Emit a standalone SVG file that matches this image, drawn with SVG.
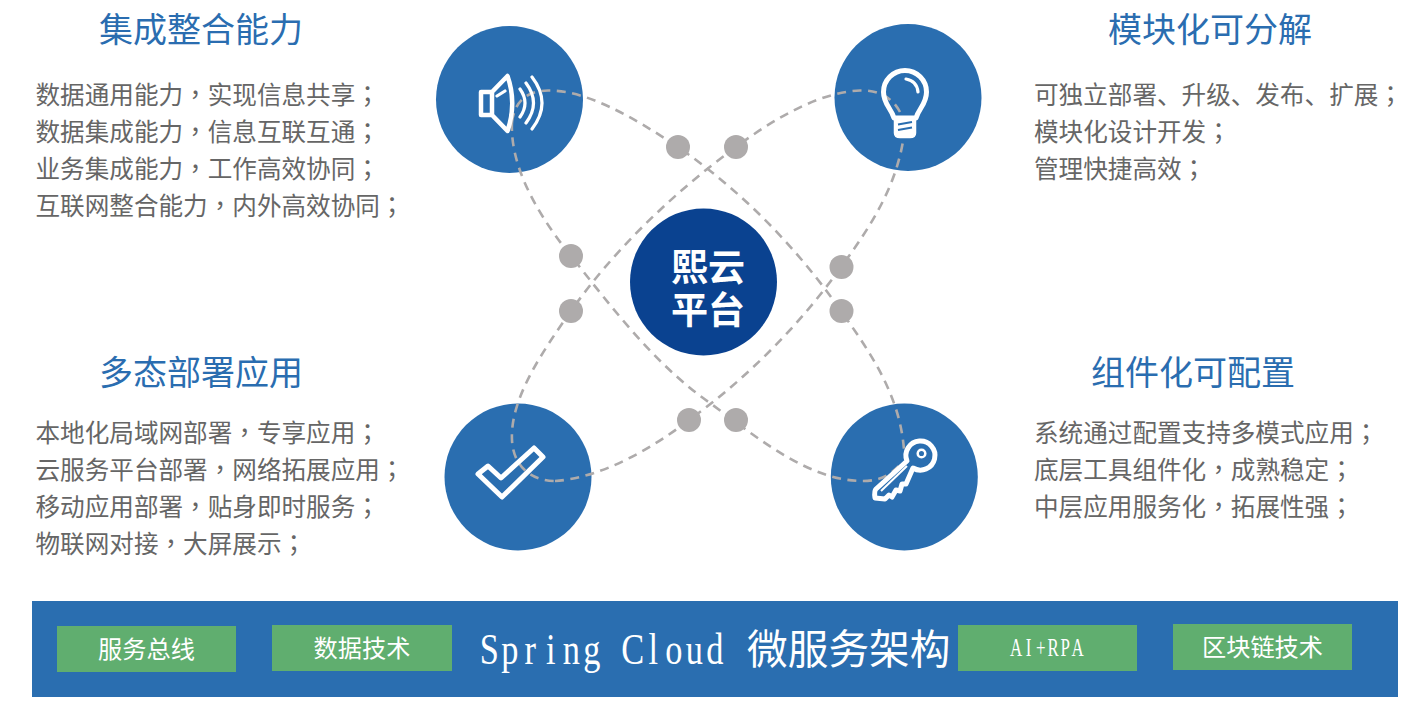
<svg xmlns="http://www.w3.org/2000/svg" width="1428" height="702" viewBox="0 0 1428 702">
<style>
text{font-family:"Noto Sans CJK SC","Liberation Sans",sans-serif}
.h{font-size:34px;fill:#2a6db0}
.b{font-size:24.600px;fill:#666}
.b tspan{font-family:"Noto Sans CJK TC","Liberation Sans",sans-serif}
.c{fill:#2a6eb0}
.d{fill:#aeabab}
.g{fill:#60ae6f}
.l{font-size:24.200px;fill:#fff;text-anchor:middle}
.i{fill:none;stroke:#fff;stroke-width:4.500;stroke-linecap:round;stroke-linejoin:round}
.t{stroke-width:3.200}
.s{font-family:"Liberation Serif",serif;fill:#fff;text-anchor:middle}
.k{fill:none;stroke:#aeabab;stroke-width:2.600;stroke-dasharray:9 6.500}
</style>
<rect width="1428" height="702" fill="#fff"/>
<g id="circles">
<circle class="c" cx="509.500" cy="99.500" r="73.500"/>
<circle class="c" cx="908" cy="97.500" r="73.500"/>
<circle class="c" cx="518" cy="477" r="73.500"/>
<circle class="c" cx="904.300" cy="477" r="73.500"/>
</g>
<g id="connectors">
<path class="k" d="M512,122 C515,100 528,91 548,90.500 C585,90 630,115 678,147 C740,190 795,245 841,311 C870,352 900,395 904,450"/>
<path class="k" d="M512,122 C510,160 530,205 571,256 C610,305 655,365 710,403 C760,440 810,481 863,481 C880,481 892,475 902,462"/>
<path class="k" d="M900,112 C892,97 878,90 860,90.500 C820,92 775,118 736,147 C670,195 610,255 571,311 C540,355 510,400 512,440 C513,465 530,481 555,481"/>
<path class="k" d="M555,481 C600,478 650,450 689,420 C745,380 800,325 841,267 C872,225 897,185 904,135"/>
</g>
<g id="dots">
<circle class="d" cx="678" cy="147" r="12"/>
<circle class="d" cx="736" cy="147" r="12"/>
<circle class="d" cx="571" cy="256" r="12"/>
<circle class="d" cx="571" cy="311" r="12"/>
<circle class="d" cx="841.500" cy="267" r="12"/>
<circle class="d" cx="841.500" cy="311" r="12"/>
<circle class="d" cx="689" cy="420" r="12"/>
<circle class="d" cx="736" cy="420" r="12"/>
</g>
<g id="node-speaker">
<path class="i" d="M492,92 H481 V115 H492 Z M492,92 L507.500,76 Q517,103 507.500,131 L492,115"/>
<path class="i t" d="M497,96 L505,91 M520,89 Q530,103 520,117 M526,83 Q541,103 526,123 M532,77 Q552,103 532,129"/>
</g>
<g id="node-bulb">
<path class="i" style="stroke-width:5" d="M894,118 C891,108 883.500,104 883.500,92 A21.500 21.500 0 1 1 926.500,92 C926.500,104 919,108 916,118 Z"/>
<path class="i" style="fill:#fff" d="M896,120 V133 Q896,136 900,136 H910 Q914,136 914,133 V120 Z"/>
<path d="M898,124.500 L912,122 M898,130 L912,127.500" fill="none" stroke="#2a6eb0" stroke-width="2"/>
<path class="i t" d="M906,79 Q917,81 918,92"/>
</g>
<g id="node-check">
<path class="i" style="stroke-width:5" d="M488,466 L501,478 L534,448 L543,457 L502,497 L478,474 Z"/>
</g>
<g id="node-key">
<path class="i" style="fill:#2a6eb0;stroke-width:5" d="M907,461 L876,489 Q874,491 875,498 L885,499 L889,495 L892,497 L896,490 L900,491 L902,484 L906,484 L913,468 A14.500 14.500 0 1 0 907,461 Z"/>
<circle cx="921.500" cy="453.500" r="3.800" fill="none" stroke="#fff" stroke-width="2.500"/>
<path d="M881,491 L907,466" stroke="#fff" stroke-width="2" fill="none"/>
</g>
<g id="node-center">
<circle cx="703.500" cy="282" r="73.500" fill="#0a4290"/>
<text text-anchor="middle" fill="#fff" font-size="37" font-weight="700"><tspan x="708" y="281">熙云</tspan><tspan x="708" y="324">平台</tspan></text>
</g>
<g id="block-integration">
<text class="h" x="99" y="42">集成整合能力</text>
<text class="b" x="35.500" y="103.500">数据通用能力<tspan>，</tspan>实现信息共享<tspan>；</tspan></text>
<text class="b" x="35.500" y="140.500">数据集成能力<tspan>，</tspan>信息互联互通<tspan>；</tspan></text>
<text class="b" x="35.500" y="177.500">业务集成能力<tspan>，</tspan>工作高效协同<tspan>；</tspan></text>
<text class="b" x="35.500" y="214.500">互联网整合能力<tspan>，</tspan>内外高效协同<tspan>；</tspan></text>
</g>
<g id="block-modular">
<text class="h" x="1108" y="42">模块化可分解</text>
<text class="b" x="1034" y="103.500">可独立部署、升级、发布、扩展<tspan>；</tspan></text>
<text class="b" x="1034" y="140.500">模块化设计开发<tspan>；</tspan></text>
<text class="b" x="1034" y="177.500">管理快捷高效<tspan>；</tspan></text>
</g>
<g id="block-deploy">
<text class="h" x="99" y="385">多态部署应用</text>
<text class="b" x="35.500" y="441.500">本地化局域网部署<tspan>，</tspan>专享应用<tspan>；</tspan></text>
<text class="b" x="35.500" y="478.500">云服务平台部署<tspan>，</tspan>网络拓展应用<tspan>；</tspan></text>
<text class="b" x="35.500" y="515.500">移动应用部署<tspan>，</tspan>贴身即时服务<tspan>；</tspan></text>
<text class="b" x="35.500" y="552.500">物联网对接<tspan>，</tspan>大屏展示<tspan>；</tspan></text>
</g>
<g id="block-config">
<text class="h" x="1091" y="385">组件化可配置</text>
<text class="b" x="1034" y="441.500">系统通过配置支持多模式应用<tspan>；</tspan></text>
<text class="b" x="1034" y="478.500">底层工具组件化<tspan>，</tspan>成熟稳定<tspan>；</tspan></text>
<text class="b" x="1034" y="515.500">中层应用服务化<tspan>，</tspan>拓展性强<tspan>；</tspan></text>
</g>
<g id="bar">
<rect class="c" x="32" y="601" width="1366" height="96"/>
<text class="s" font-size="44" transform="translate(479,664) scale(.78,1)" x="13.100 39.400 65.700 92 118.300 144.600 170.900 197.200 223.500 249.800 276.100 302.400">Spring Cloud</text>
<text x="747" y="664" font-size="40.700" fill="#fff">微服务架构</text>
</g>
<g id="tag-bus"><rect class="g" x="57" y="626" width="179" height="46"/><text class="l" x="146.500" y="658">服务总线</text></g>
<g id="tag-data"><rect class="g" x="272" y="625" width="180" height="46"/><text class="l" x="362" y="657">数据技术</text></g>
<g id="tag-ai"><rect class="g" x="958" y="625" width="179" height="46"/><text class="s" font-size="26" transform="translate(1010,656) scale(.65,1)" x="9.500 28.400 47.300 66.200 85.100 104">AI+RPA</text></g>
<g id="tag-chain"><rect class="g" x="1173" y="624" width="179" height="46"/><text class="l" x="1262.500" y="656">区块链技术</text></g>
</svg>
